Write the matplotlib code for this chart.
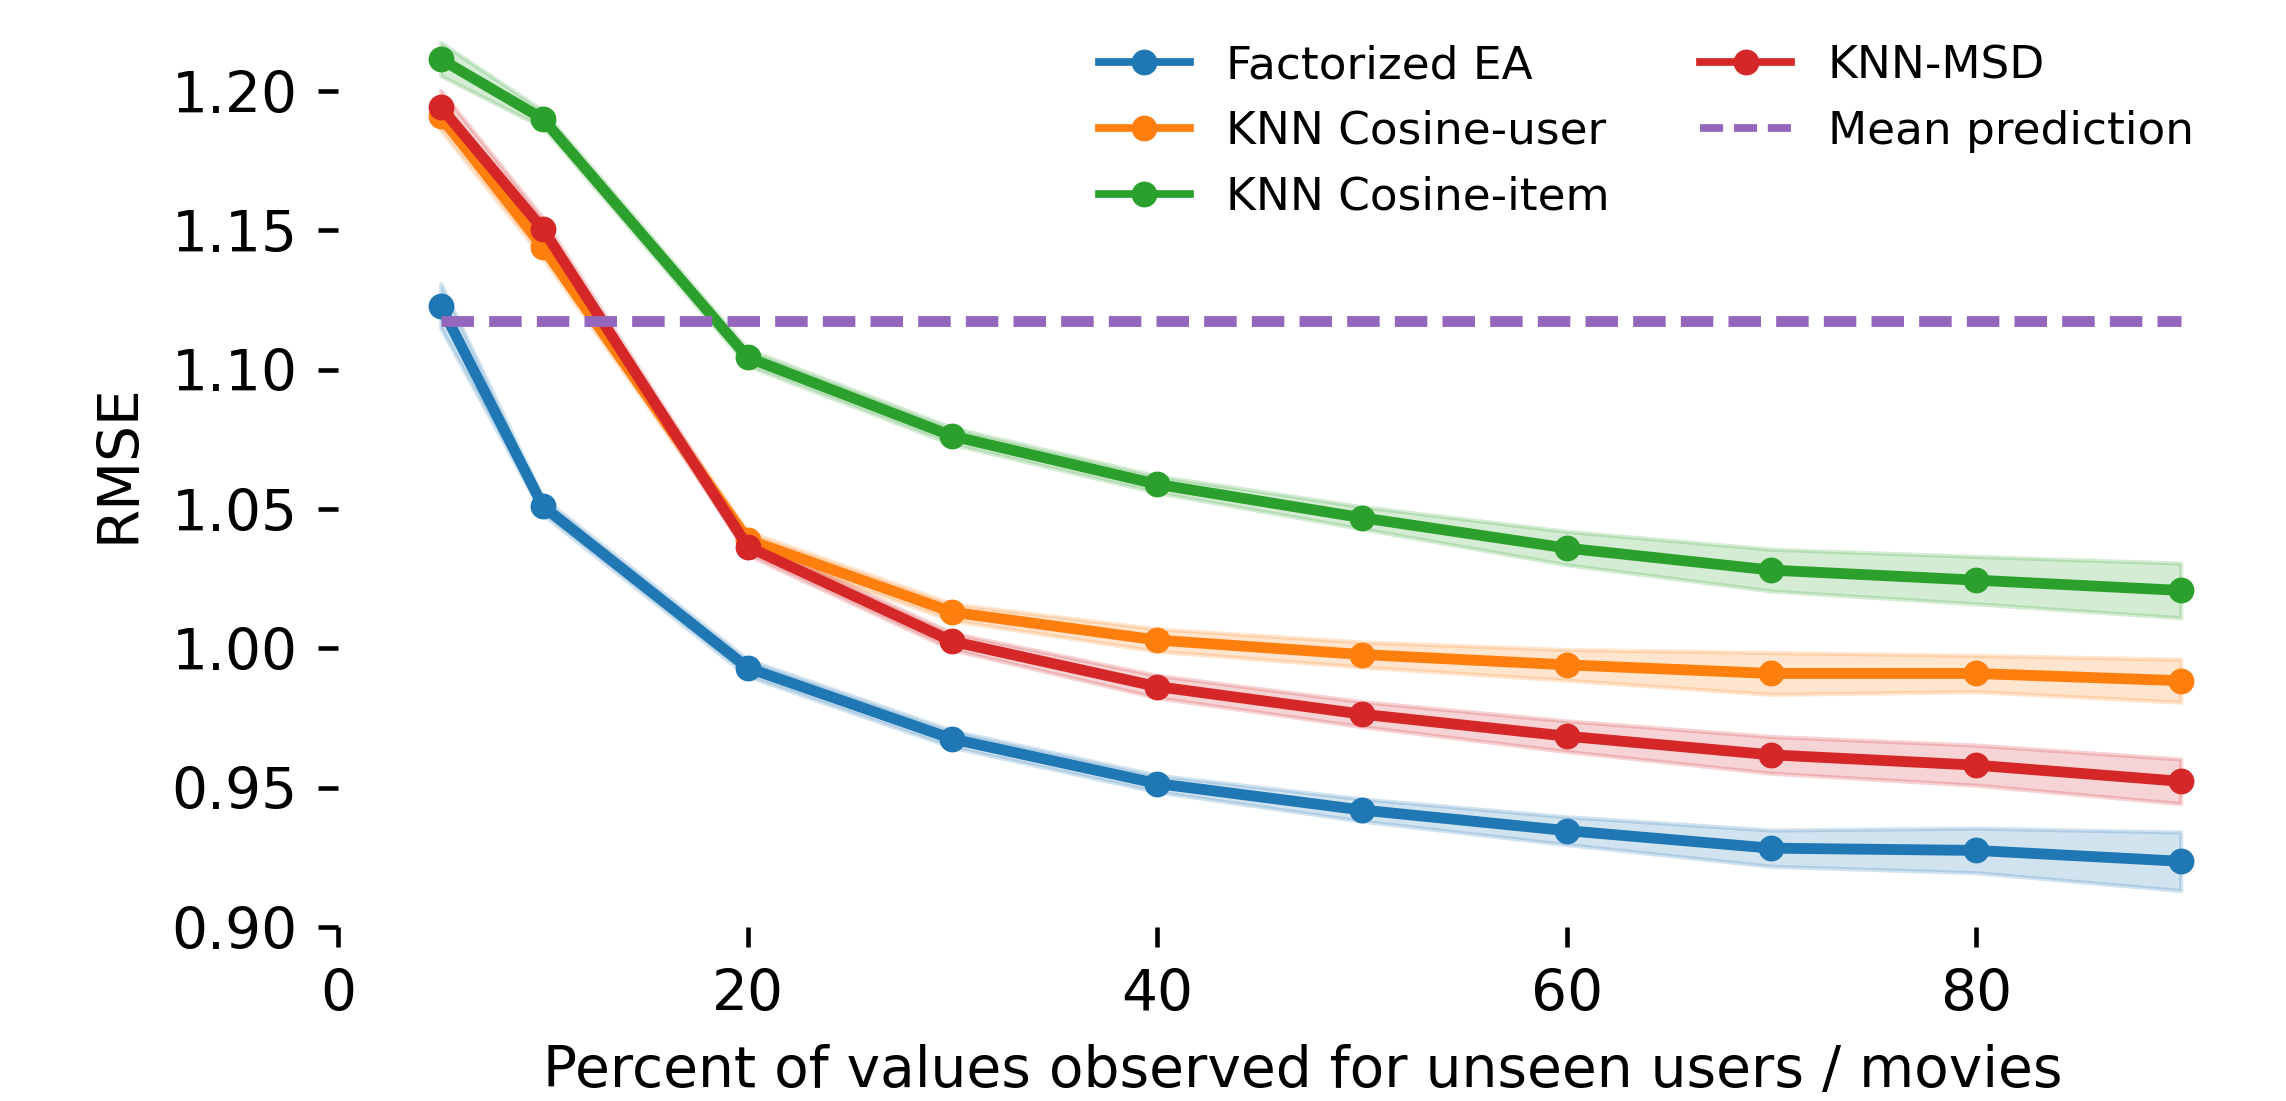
import matplotlib
matplotlib.use("Agg")
import matplotlib.pyplot as plt
import numpy as np

pct = [5, 10, 20, 30, 40, 50, 60, 70, 80, 90]

factorized_ea = [1.123, 1.051, 0.993, 0.9675, 0.9515, 0.942, 0.9346, 0.9283, 0.9275, 0.9236]
knn_cos_user = [1.191, 1.144, 1.039, 1.013, 1.003, 0.9978, 0.9941, 0.991, 0.991, 0.9884]
knn_cos_item = [1.2115, 1.190, 1.1044, 1.0762, 1.0589, 1.0469, 1.036, 1.0281, 1.0245, 1.0208]
knn_msd = [1.1943, 1.1504, 1.0365, 1.0025, 0.9863, 0.9764, 0.9685, 0.9618, 0.9581, 0.9523]
mean_pred = 1.1175

std_ea = [0.008, 0.003, 0.003, 0.003, 0.003, 0.004, 0.005, 0.0065, 0.008, 0.0105]
std_user = [0.005, 0.004, 0.003, 0.003, 0.004, 0.0045, 0.0055, 0.0075, 0.0065, 0.0077]
std_item = [0.006, 0.003, 0.003, 0.003, 0.003, 0.004, 0.006, 0.0075, 0.0085, 0.0098]
std_msd = [0.006, 0.004, 0.003, 0.003, 0.004, 0.0045, 0.0055, 0.0066, 0.0072, 0.008]

series = [
    ("Factorized EA", factorized_ea, std_ea, "C0"),
    ("KNN Cosine-user", knn_cos_user, std_user, "C1"),
    ("KNN Cosine-item", knn_cos_item, std_item, "C2"),
    ("KNN-MSD", knn_msd, std_msd, "C3"),
]

fig = plt.figure(figsize=(7.62, 3.67), dpi=300)
ax = fig.add_axes([0.148, 0.158, 0.844, 0.842])

x = np.array(pct)
for name, vals, sd, col in series:
    v = np.array(vals)
    s = np.array(sd)
    ax.fill_between(x, v - s, v + s, color=col, alpha=0.2)
    ax.plot(x, v, marker="o", color=col, lw=2.6, ms=5.2, label=name)

ax.plot([pct[0], pct[-1]], [mean_pred, mean_pred], "--", color="C4", lw=2.6,
        dashes=(3.0, 1.4), label="Mean prediction")

ax.set_xlim(0, 94.25)
ax.set_ylim(0.90, 1.2327)
ax.set_xticks([0, 20, 40, 60, 80])
ax.set_yticks(np.arange(0.90, 1.2001, 0.05))
ax.yaxis.set_major_formatter(matplotlib.ticker.FormatStrFormatter("%.2f"))
for sp in ax.spines.values():
    sp.set_visible(False)
ax.tick_params(direction="out", length=4.8, width=1.1, labelsize=13.6, pad=5)

ax.set_xlabel("Percent of values observed for unseen users / movies", fontsize=13.6,
              labelpad=5)
ax.set_ylabel("RMSE", fontsize=13.6, labelpad=6)

leg = ax.legend(ncol=2, frameon=False, fontsize=10.9, loc="upper right",
                bbox_to_anchor=(0.971, 0.972), borderaxespad=0, handlelength=2.0)
for h in leg.get_lines():
    h.set_linewidth(1.85)

fig.savefig("out.png", dpi=300)
